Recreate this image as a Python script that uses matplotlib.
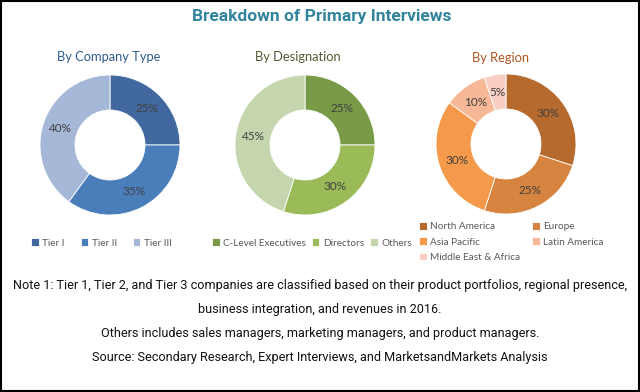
import matplotlib
matplotlib.use("Agg")
import matplotlib.pyplot as plt
from matplotlib.patches import Rectangle

# data
company_labels = ["Tier I", "Tier II", "Tier III"]
company_values = [25, 35, 40]
company_colors = ["#41699F", "#4A7EBB", "#A5B8D8"]

designation_labels = ["C-Level Executives", "Directors", "Others"]
designation_values = [25, 30, 45]
designation_colors = ["#799A47", "#9BBB59", "#C5D6AE"]

region_labels = ["North America", "Europe", "Asia Pacific", "Latin America",
                 "Middle East & Africa"]
region_values = [30, 25, 30, 10, 5]
region_colors = ["#B66A2E", "#D6843F", "#F5994A", "#F6B896", "#F9CFC4"]

W, H = 640, 392
NARROW = ["Roboto", "DejaVu Sans"]
BODY = ["Lato", "DejaVu Sans"]

fig = plt.figure(figsize=(W / 100, H / 100), dpi=100)
fig.patch.set_facecolor("white")
renderer = fig.canvas.get_renderer()


def px(x, y):
    return x / W, 1 - y / H


def fit_text(t, target_w):
    # shrink/grow the font so the text spans roughly target_w pixels
    w = t.get_window_extent(renderer).width
    t.set_fontsize(t.get_fontsize() * target_w / w)


def donut(cx, cy, r, values, colors):
    ax = fig.add_axes([(cx - r) / W, 1 - (cy + r) / H, 2 * r / W, 2 * r / H])
    wedges, texts, autotexts = ax.pie(
        values, colors=colors, startangle=90, counterclock=False,
        radius=1, autopct="%d%%", pctdistance=0.74,
        wedgeprops=dict(width=0.5, edgecolor="white", linewidth=0.6),
        textprops=dict(fontsize=8.5, color="#404040", family=BODY),
    )
    ax.set_xlim(-1, 1)
    ax.set_ylim(-1, 1)
    ax.set_aspect("equal")
    ax.axis("off")
    return wedges


w1 = donut(110, 145, 70, company_values, company_colors)
w2 = donut(305, 145, 70, designation_values, designation_colors)
w3 = donut(506, 144, 70, region_values, region_colors)

title = fig.text(*px(322, 17), "Breakdown of Primary Interviews", ha="center",
                 va="center", fontsize=14, fontweight="bold", color="#31849B",
                 family=NARROW)
fit_text(title, 260)
fig.text(*px(109, 57), "By Company Type", ha="center", va="center",
         fontsize=9.3, color="#2F5B8A", family=BODY)
fig.text(*px(298, 57), "By Designation", ha="center", va="center",
         fontsize=9.3, color="#4F5A30", family=BODY)
fig.text(*px(500, 58), "By Region", ha="center", va="center",
         fontsize=9.3, color="#B0541E", family=BODY)

leg_kw = dict(frameon=False, handlelength=0.75, handleheight=0.75, handletextpad=0.35,
              borderaxespad=0, borderpad=0, prop=dict(family=BODY, size=7.2),
              labelcolor="#595959")
fig.legend(w1, company_labels, loc="center left", bbox_to_anchor=px(31, 243),
           ncol=3, columnspacing=1.6, **leg_kw)
fig.legend(w2, designation_labels, loc="center left", bbox_to_anchor=px(212, 243),
           ncol=3, columnspacing=0.6, **leg_kw)
order = [0, 2, 4, 1, 3]
fig.legend([w3[i] for i in order], [region_labels[i] for i in order],
           loc="center left", bbox_to_anchor=px(419, 242), ncol=2,
           columnspacing=1.2, labelspacing=0.6, **leg_kw)

notes = [
    (286, "Note 1: Tier 1, Tier 2, and Tier 3 companies are classified based on their product portfolios, regional presence,"),
    (309, "business integration, and revenues in 2016."),
    (333, "Others includes sales managers, marketing managers, and product managers."),
    (358, "Source: Secondary Research, Expert Interviews, and MarketsandMarkets Analysis"),
]
note_texts = [fig.text(*px(320, y), s, ha="center", va="center", fontsize=9.5,
                       color="#111111", family=NARROW) for y, s in notes]
fit_text(note_texts[0], 614)
for t in note_texts[1:]:
    t.set_fontsize(note_texts[0].get_fontsize())

fig.patches.append(Rectangle((0.0015, 0.0025), 0.997, 0.995, transform=fig.transFigure,
                             fill=False, edgecolor="black", linewidth=1.5))

fig.savefig("out.png", dpi=100)
